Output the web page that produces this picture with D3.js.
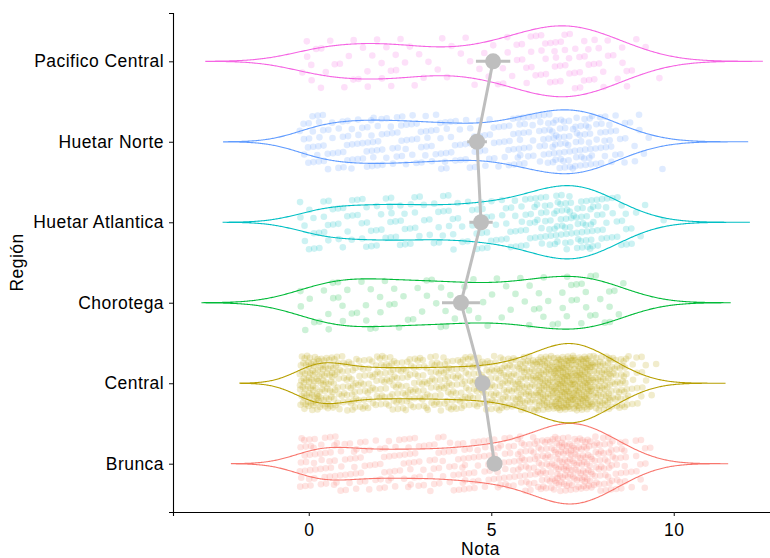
<!DOCTYPE html>
<html>
<head>
<meta charset="utf-8">
<script src="https://cdn.jsdelivr.net/npm/d3@7"></script>
<style>
  body { margin: 0; background: #fff; }
  svg { display: block; font-family: "Liberation Sans", Arial, sans-serif; }
</style>
</head>
<body>
<svg id="chart"></svg>
<script>
// regions from bottom to top, ggplot hue palette
const regions = ["Brunca", "Central", "Chorotega", "Huetar Atlantica", "Huetar Norte", "Pacifico Central"];
const colors = ["#F8766D", "#B79F00", "#00BA38", "#00BFC4", "#619CFF", "#F564E3"];

// grade bins (centre of each 0.5 wide bin) and number of students per bin
const binCenters = [0, 0.5, 1, 1.5, 2, 2.5, 3, 3.5, 4, 4.5, 5, 5.5, 6, 6.5, 7, 7.5, 8, 8.5, 9, 9.5];
const countsBrunca = [24, 20, 16, 15, 15, 15, 15, 16, 17, 18, 20, 22, 29, 38, 53, 50, 35, 24, 11, 1];
const countsCentral = [64, 54, 35, 32, 34, 34, 34, 34, 35, 37, 38, 45, 56, 77, 105, 100, 64, 42, 16, 2];
const countsChorotega = [5, 6, 6, 6, 5, 5, 5, 5, 4, 4, 4, 4, 5, 6, 7, 8, 6, 4, 0, 0];
const countsAtlantica = [9, 10, 10, 10, 10, 10, 10, 10, 10, 10, 11, 13, 16, 20, 26, 25, 17, 12, 5, 1];
const countsNorte = [14, 14, 15, 15, 15, 15, 14, 13, 12, 12, 12, 14, 18, 22, 26, 26, 18, 11, 6, 2];
const countsPacifico = [6, 5, 5, 5, 5, 5, 4, 3, 3, 4, 5, 7, 9, 10, 12, 12, 9, 6, 3, 1];
const countsByRegion = [countsBrunca, countsCentral, countsChorotega, countsAtlantica, countsNorte, countsPacifico];

// mean grade and 95% interval half width per region
const means = [5.09, 4.76, 4.17, 4.72, 4.61, 5.05];
const ciHalf = [0.20, 0.15, 0.52, 0.32, 0.27, 0.47];

const xTicks = [0, 5, 10];

const width = 770, height = 558;
const margin = {top: 13, right: -18, bottom: 46, left: 173};
const innerW = width - margin.left - margin.right;
const innerH = height - margin.top - margin.bottom;
const fontSize = "17.5px";

const svg = d3.select("#chart").attr("width", width).attr("height", height);
const chart = svg.append("g").attr("transform", `translate(${margin.left},${margin.top})`);

const x = d3.scaleLinear().domain([-3.72, 13.13]).range([0, innerW]);
const y = d3.scalePoint().domain(regions.slice().reverse()).range([0, innerH]).padding(0.6);
const step = y.step();

// expand the binned counts into individual grades, spread inside each bin;
// the drawn position keeps the spread, the grade itself stays within 0..10
let g = 0;
const frac = v => v - Math.floor(v);
const groups = regions.map((r, i) => {
    const pts = [];
    countsByRegion[i].forEach((c, b) => {
        for (let k = 0; k < c; k++) {
            g++;
            const u = frac(0.5 + g * 0.7548776662);
            const v = frac(0.5 + g * 0.5698402910);
            const pos = binCenters[b] + (u - 0.5) * 0.5;
            pts.push({pos: pos, value: Math.max(0, pos), jit: (v * 2 - 1) * 0.34});
        }
    });
    return {region: r, color: colors[i], points: pts};
});

// gaussian kernel density, bandwidth as R's bw.nrd0, cut at 3 bandwidths
function kde(values) {
    const n = values.length;
    const sorted = values.slice().sort(d3.ascending);
    const sd = d3.deviation(sorted);
    const iqr = d3.quantileSorted(sorted, 0.75) - d3.quantileSorted(sorted, 0.25);
    const bw = 0.9 * Math.min(sd, iqr / 1.34) * Math.pow(n, -0.2);
    const lo = sorted[0] - 3 * bw, hi = sorted[n - 1] + 3 * bw;
    const out = [];
    for (let j = 0; j < 512; j++) {
        const t = lo + (hi - lo) * j / 511;
        let s = 0;
        for (const xi of sorted) {
            const z = (t - xi) / bw;
            s += Math.exp(-0.5 * z * z);
        }
        out.push([t, s / (n * bw * Math.sqrt(2 * Math.PI))]);
    }
    return out;
}
groups.forEach(d => d.density = kde(d.points.map(p => p.value)));
const maxDens = d3.max(groups, d => d3.max(d.density, e => e[1]));
const halfW = d3.scaleLinear().domain([0, maxDens]).range([0, 0.5 * step]);

// jittered points
groups.forEach(d => {
    chart.append("g").selectAll("circle")
        .data(d.points)
        .join("circle")
        .attr("cx", p => x(p.pos))
        .attr("cy", p => y(d.region) + p.jit * step)
        .attr("r", 3.3)
        .attr("fill", d.color)
        .attr("fill-opacity", 0.2);
});

// violins
const area = d3.area().x(e => x(e[0]));
chart.append("g").selectAll("path")
    .data(groups)
    .join("path")
    .attr("d", d => area.y0(e => y(d.region) - halfW(e[1])).y1(e => y(d.region) + halfW(e[1]))(d.density))
    .attr("fill", "none")
    .attr("stroke", d => d.color)
    .attr("stroke-width", 1.1);

// means line, intervals and points
const summary = regions.map((r, i) => ({region: r, mean: means[i], ci: ciHalf[i]}));
chart.append("path")
    .datum(summary)
    .attr("fill", "none")
    .attr("stroke", "#BEBEBE")
    .attr("stroke-width", 3)
    .attr("d", d3.line().x(d => x(d.mean)).y(d => y(d.region)));
chart.append("g").selectAll("line")
    .data(summary)
    .join("line")
    .attr("x1", d => x(d.mean - d.ci))
    .attr("x2", d => x(d.mean + d.ci))
    .attr("y1", d => y(d.region))
    .attr("y2", d => y(d.region))
    .attr("stroke", "#BEBEBE")
    .attr("stroke-width", 3);
chart.append("g").selectAll("circle")
    .data(summary)
    .join("circle")
    .attr("cx", d => x(d.mean))
    .attr("cy", d => y(d.region))
    .attr("r", 8)
    .attr("fill", "#BEBEBE");

// axes
const xaxis = chart.append("g")
    .attr("transform", `translate(0,${innerH})`)
    .call(d3.axisBottom(x).tickValues(xTicks).tickSizeOuter(0).tickSize(4).tickPadding(7.5));
const yaxis = chart.append("g")
    .call(d3.axisLeft(y).tickSizeOuter(0).tickSize(4).tickPadding(5));
[xaxis, yaxis].forEach(a => {
    a.select(".domain").attr("stroke", "#000").attr("stroke-width", 1.1);
    a.selectAll(".tick line").attr("stroke", "#222").attr("stroke-width", 1.1);
    a.selectAll(".tick text").attr("fill", "#000")
        .style("font-size", fontSize).style("letter-spacing", "0.45px")
        .style("font-family", "Liberation Sans, Arial, sans-serif");
});

svg.append("text")
    .attr("x", margin.left + innerW / 2)
    .attr("y", 555)
    .attr("text-anchor", "middle")
    .style("font-size", fontSize)
    .style("letter-spacing", "0.45px")
    .text("Nota");
svg.append("text")
    .attr("transform", `translate(23,${margin.top + innerH / 2}) rotate(-90)`)
    .attr("text-anchor", "middle")
    .style("font-size", fontSize)
    .style("letter-spacing", "0.45px")
    .text("Región");
</script>
</body>
</html>
